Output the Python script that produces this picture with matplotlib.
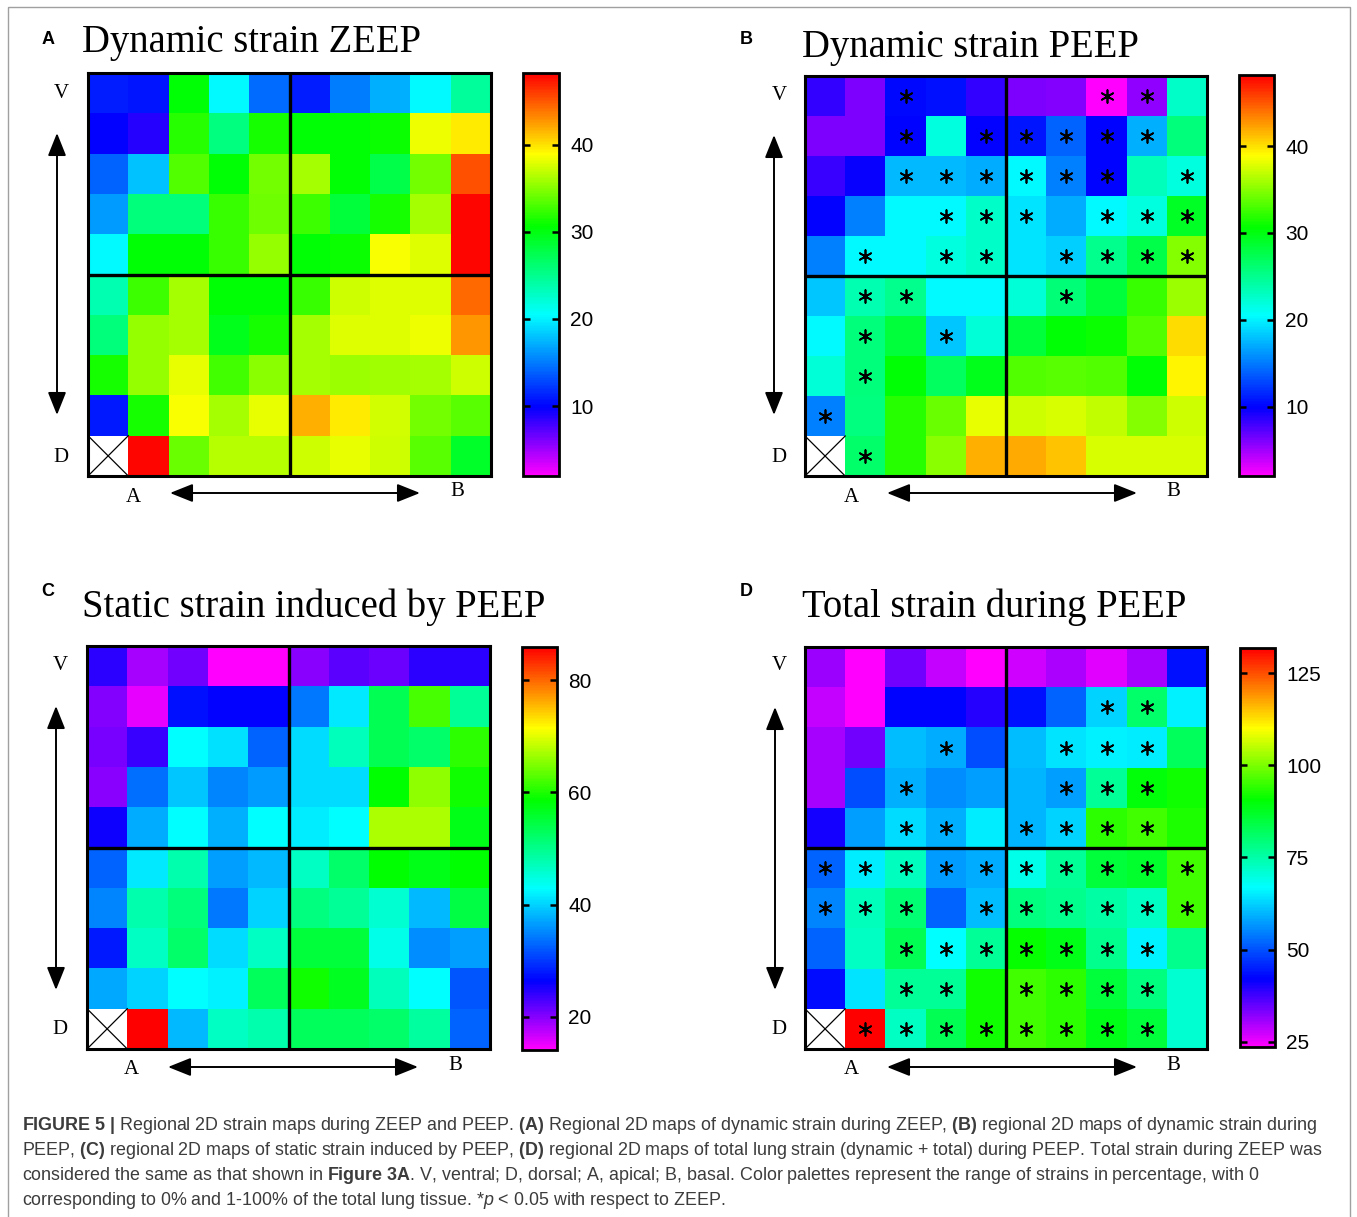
import numpy as np
import matplotlib.pyplot as plt
from matplotlib.colors import LinearSegmentedColormap
from matplotlib.patches import Rectangle

W, H = 1357, 1217

plt.rcParams['mathtext.fontset'] = 'custom'
plt.rcParams['mathtext.rm'] = 'Liberation Sans'
plt.rcParams['mathtext.bf'] = 'Liberation Sans:bold'
plt.rcParams['mathtext.it'] = 'Liberation Sans:italic'

nan = np.nan

# regional strain (%) per cell, rows ventral -> dorsal, columns apical -> basal
dyn_zeep = [
    [11.2, 10.8, 30.5, 20.4, 14.4, 11.2, 15.1, 17.2, 20.4, 24.5],
    [9.8, 8.7, 31.9, 25.5, 31.4, 30.5, 30.5, 31.0, 38.3, 39.7],
    [14.0, 18.0, 33.3, 30.5, 34.4, 36.0, 30.5, 27.8, 34.4, 45.2],
    [16.3, 25.7, 25.7, 32.4, 34.2, 32.6, 28.2, 31.4, 36.0, 48.0],
    [20.4, 30.5, 30.5, 32.4, 35.4, 30.5, 31.0, 38.8, 37.9, 48.0],
    [23.6, 32.6, 36.0, 30.5, 30.5, 32.4, 37.2, 37.9, 37.9, 44.3],
    [25.7, 35.4, 36.0, 29.6, 31.4, 36.0, 37.9, 37.9, 38.3, 42.7],
    [31.4, 35.4, 38.1, 32.8, 35.1, 36.0, 35.6, 35.8, 36.0, 37.2],
    [11.0, 31.4, 38.8, 36.0, 38.1, 41.8, 39.7, 37.4, 34.4, 33.5],
    [nan, 48.0, 34.0, 36.5, 36.5, 37.2, 38.1, 37.2, 33.5, 28.9],
]

dyn_peep = [
    [8.4, 6.1, 10.3, 10.5, 8.4, 6.1, 5.9, 2.0, 5.5, 22.7],
    [6.1, 6.1, 10.0, 21.8, 9.8, 10.7, 14.0, 10.0, 17.2, 25.7],
    [8.2, 9.6, 17.6, 17.6, 17.0, 20.4, 15.3, 10.0, 23.2, 21.8],
    [9.8, 15.3, 20.4, 20.4, 22.7, 19.5, 17.0, 20.4, 21.8, 29.1],
    [15.3, 20.4, 20.4, 21.8, 22.7, 19.5, 18.6, 25.0, 27.8, 34.9],
    [18.1, 23.6, 25.0, 20.4, 20.4, 22.2, 25.9, 28.2, 32.4, 35.6],
    [20.4, 25.7, 28.2, 18.1, 22.2, 28.2, 30.5, 31.0, 33.3, 40.2],
    [22.2, 25.7, 30.5, 26.8, 29.6, 33.3, 33.5, 33.3, 30.5, 39.3],
    [15.3, 25.5, 31.9, 34.0, 38.1, 37.2, 37.7, 37.0, 34.9, 37.2],
    [nan, 26.4, 31.9, 35.1, 41.8, 42.0, 41.1, 37.7, 37.7, 37.7],
]

static_peep = [
    [24.2, 18.4, 20.9, 14.1, 14.1, 19.8, 22.0, 21.3, 24.2, 24.2],
    [20.2, 15.5, 27.4, 26.3, 26.3, 34.2, 41.4, 53.6, 62.2, 49.3],
    [20.6, 23.8, 42.8, 41.0, 32.8, 40.7, 47.1, 53.6, 52.2, 60.8],
    [19.8, 33.5, 39.2, 34.9, 36.4, 40.7, 40.7, 58.6, 65.8, 59.3],
    [25.6, 37.4, 42.8, 37.8, 42.8, 41.7, 42.8, 67.2, 67.2, 57.2],
    [32.8, 41.4, 47.8, 36.7, 38.5, 46.4, 52.2, 58.6, 57.2, 58.6],
    [34.9, 47.8, 51.1, 34.2, 40.0, 50.7, 49.3, 45.7, 38.5, 54.3],
    [28.1, 46.4, 52.2, 40.7, 46.4, 55.0, 55.0, 44.3, 35.6, 36.7],
    [37.1, 40.0, 42.8, 42.1, 52.9, 59.3, 56.5, 47.1, 42.8, 32.0],
    [nan, 85.9, 38.5, 46.4, 47.8, 52.9, 52.9, 52.2, 48.6, 32.8],
]

total_peep = [
    [31.2, 23.6, 33.9, 27.9, 23.6, 27.4, 29.6, 25.8, 30.1, 43.6],
    [27.9, 23.6, 42.5, 42.5, 39.3, 43.6, 51.7, 62.6, 80.9, 65.8],
    [30.1, 33.9, 60.4, 58.8, 49.6, 60.4, 64.2, 65.8, 65.3, 82.0],
    [30.1, 49.6, 59.3, 56.1, 57.7, 59.8, 57.7, 76.6, 89.6, 91.8],
    [40.9, 57.7, 63.6, 59.3, 65.3, 59.8, 62.6, 93.9, 95.6, 92.8],
    [51.7, 65.3, 72.8, 57.1, 58.8, 69.0, 76.6, 85.3, 86.4, 95.6],
    [55.0, 73.4, 79.9, 51.7, 60.4, 78.8, 77.7, 75.5, 72.3, 95.6],
    [51.7, 72.3, 83.1, 66.9, 76.6, 91.2, 88.5, 77.7, 65.8, 77.7],
    [43.1, 64.2, 76.6, 76.6, 91.8, 95.6, 93.9, 85.3, 78.8, 71.2],
    [nan, 131.8, 72.3, 83.1, 91.8, 95.6, 93.9, 88.5, 85.3, 71.2],
]

# cells with p < 0.05 vs ZEEP, row -> columns
sig_dyn_peep = {0: [2, 7, 8], 1: [2, 4, 5, 6, 7, 8], 2: [2, 3, 4, 5, 6, 7, 9],
                3: [3, 4, 5, 7, 8, 9], 4: [1, 3, 4, 6, 7, 8, 9], 5: [1, 2, 6],
                6: [1, 3], 7: [1], 8: [0], 9: [1]}
sig_total_peep = {1: [7, 8], 2: [3, 6, 7, 8], 3: [2, 6, 7, 8], 4: [2, 3, 5, 6, 7, 8],
                  5: list(range(10)), 6: [0, 1, 2, 4, 5, 6, 7, 8, 9],
                  7: [2, 3, 4, 5, 6, 7, 8], 8: [2, 3, 5, 6, 7, 8],
                  9: [1, 2, 3, 4, 5, 6, 7, 8]}

ticks_dyn = [10, 20, 30, 40]
ticks_static = [20, 40, 60, 80]
ticks_total = [25, 50, 75, 100, 125]

cmap = LinearSegmentedColormap.from_list('strain', [
    (0.00, (1, 0, 1)),
    (0.17, (0, 0, 1)),
    (0.40, (0, 1, 1)),
    (0.62, (0, 1, 0)),
    (0.80, (1, 1, 0)),
    (1.00, (1, 0, 0)),
])
cmap.set_bad('white')

fig = plt.figure(figsize=(W / 100, H / 100), dpi=100)


def px_rect(x0, y0, x1, y1):
    return [x0 / W, 1 - y1 / H, (x1 - x0) / W, (y1 - y0) / H]


ov = fig.add_axes([0, 0, 1, 1])
ov.set_xlim(0, W)
ov.set_ylim(H, 0)
ov.axis('off')
ov.add_patch(Rectangle((8, 7), 1342, 1230, fill=False, ec='#a0a0a0', lw=1))


def draw_map(rect, data, vmin, vmax, cbar_rect, ticks, sig=None):
    ax = fig.add_axes(px_rect(*rect))
    arr = np.array(data, dtype=float)
    img = ax.imshow(arr, cmap=cmap, vmin=vmin, vmax=vmax, extent=(0, 10, 10, 0),
                    aspect='auto', interpolation='nearest')
    # empty apical-dorsal corner
    ax.plot([0, 1], [9, 10], color='k', lw=0.9)
    ax.plot([0, 1], [10, 9], color='k', lw=0.9)
    ax.axvline(5, color='k', lw=2.4)
    ax.axhline(5, color='k', lw=2.4)
    if sig:
        rows = [r for r, cs in sig.items() for c in cs]
        cols = [c for r, cs in sig.items() for c in cs]
        ax.scatter(np.array(cols) + 0.5, np.array(rows) + 0.5, marker=(6, 2, 0),
                   s=85, c='k', lw=1.25, zorder=5)
    ax.set_xlim(0, 10)
    ax.set_ylim(10, 0)
    ax.set_xticks([])
    ax.set_yticks([])
    for sp in ax.spines.values():
        sp.set_linewidth(2.2)

    cax = fig.add_axes(px_rect(*cbar_rect))
    cb = fig.colorbar(img, cax=cax, ticks=ticks)
    cb.outline.set_linewidth(2)
    cax.tick_params(axis='y', direction='in', left=True, right=True, length=5,
                    width=1.8, labelsize=15, pad=8, labelleft=False, labelright=True)
    for lab in cax.get_yticklabels():
        lab.set_fontfamily('Liberation Sans')
    return ax


draw_map((88, 73, 491, 476), dyn_zeep, 2.0, 48.2, (523, 73, 559, 476), ticks_dyn)
draw_map((805, 76, 1207, 476), dyn_peep, 2.0, 48.2, (1239, 75, 1274, 476), ticks_dyn,
         sig_dyn_peep)
draw_map((87, 646, 490, 1049), static_peep, 14.1, 85.9, (522, 647, 557, 1050), ticks_static)
draw_map((805, 647, 1207, 1049), total_peep, 23.6, 131.8, (1240, 648, 1275, 1047),
         ticks_total, sig_total_peep)

serif = 'Liberation Serif'
panels = [
    # letter, title, letter pos, title x, title baseline, V, D, A, B, vert arrow, horiz arrow
    ('A', 'Dynamic strain ZEEP', (48, 40), 82, 52, (61, 93), (61, 457), (133, 497),
     (457, 492), (57, 133, 415), (170, 420, 493)),
    ('B', 'Dynamic strain PEEP', (746, 40), 802, 57, (779, 95), (779, 457), (851, 497),
     (1173, 492), (774, 135, 415), (887, 1137, 493)),
    ('C', 'Static strain induced by PEEP', (48, 592), 82, 617, (60, 666), (60, 1030),
     (131, 1070), (455, 1066), (56, 706, 990), (168, 418, 1067)),
    ('D', 'Total strain during PEEP', (746, 592), 802, 617, (779, 666), (779, 1030),
     (851, 1070), (1173, 1066), (775, 707, 990), (887, 1137, 1067)),
]

arrow_style = dict(arrowstyle='<|-|>,head_length=1.0,head_width=0.4', color='k',
                   lw=1.4, shrinkA=0, shrinkB=0, mutation_scale=14)

for letter, title, lp, tx, ty, vpos, dpos, apos, bpos, varr, harr in panels:
    ov.text(lp[0], lp[1], letter, fontsize=13, fontweight='bold',
            family='Liberation Sans', ha='center', va='center')
    ov.text(tx, ty, title, fontsize=27.8, family=serif, ha='left', va='baseline')
    for pos, s in ((vpos, 'V'), (dpos, 'D'), (apos, 'A'), (bpos, 'B')):
        ov.text(pos[0], pos[1], s, fontsize=15, family=serif, ha='center', va='center')
    ov.annotate('', xy=(varr[0], varr[2]), xytext=(varr[0], varr[1]), arrowprops=arrow_style)
    ov.annotate('', xy=(harr[1], harr[2]), xytext=(harr[0], harr[2]), arrowprops=arrow_style)

caption = [
    r'$\mathbf{FIGURE\ 5\ |}$ Regional 2D strain maps during ZEEP and PEEP. $\mathbf{(A)}$ '
    r'Regional 2D maps of dynamic strain during ZEEP, $\mathbf{(B)}$ regional 2D maps of '
    r'dynamic strain during',
    r'PEEP, $\mathbf{(C)}$ regional 2D maps of static strain induced by PEEP, $\mathbf{(D)}$ '
    r'regional 2D maps of total lung strain (dynamic + total) during PEEP. Total strain '
    r'during ZEEP was',
    r'considered the same as that shown in $\mathbf{Figure\ 3A}$. V, ventral; D, dorsal; '
    r'A, apical; B, basal. Color palettes represent the range of strains in percentage, '
    r'with 0',
    r'corresponding to 0% and 1-100% of the total lung tissue. *$\mathit{p}$ < 0.05 with '
    r'respect to ZEEP.',
]
for i, line in enumerate(caption):
    ov.text(22, 1130 + 25 * i, line, fontsize=12.9, family='Liberation Sans',
            color='#3c3c3c', ha='left', va='baseline')

fig.savefig('out.png', dpi=100)
